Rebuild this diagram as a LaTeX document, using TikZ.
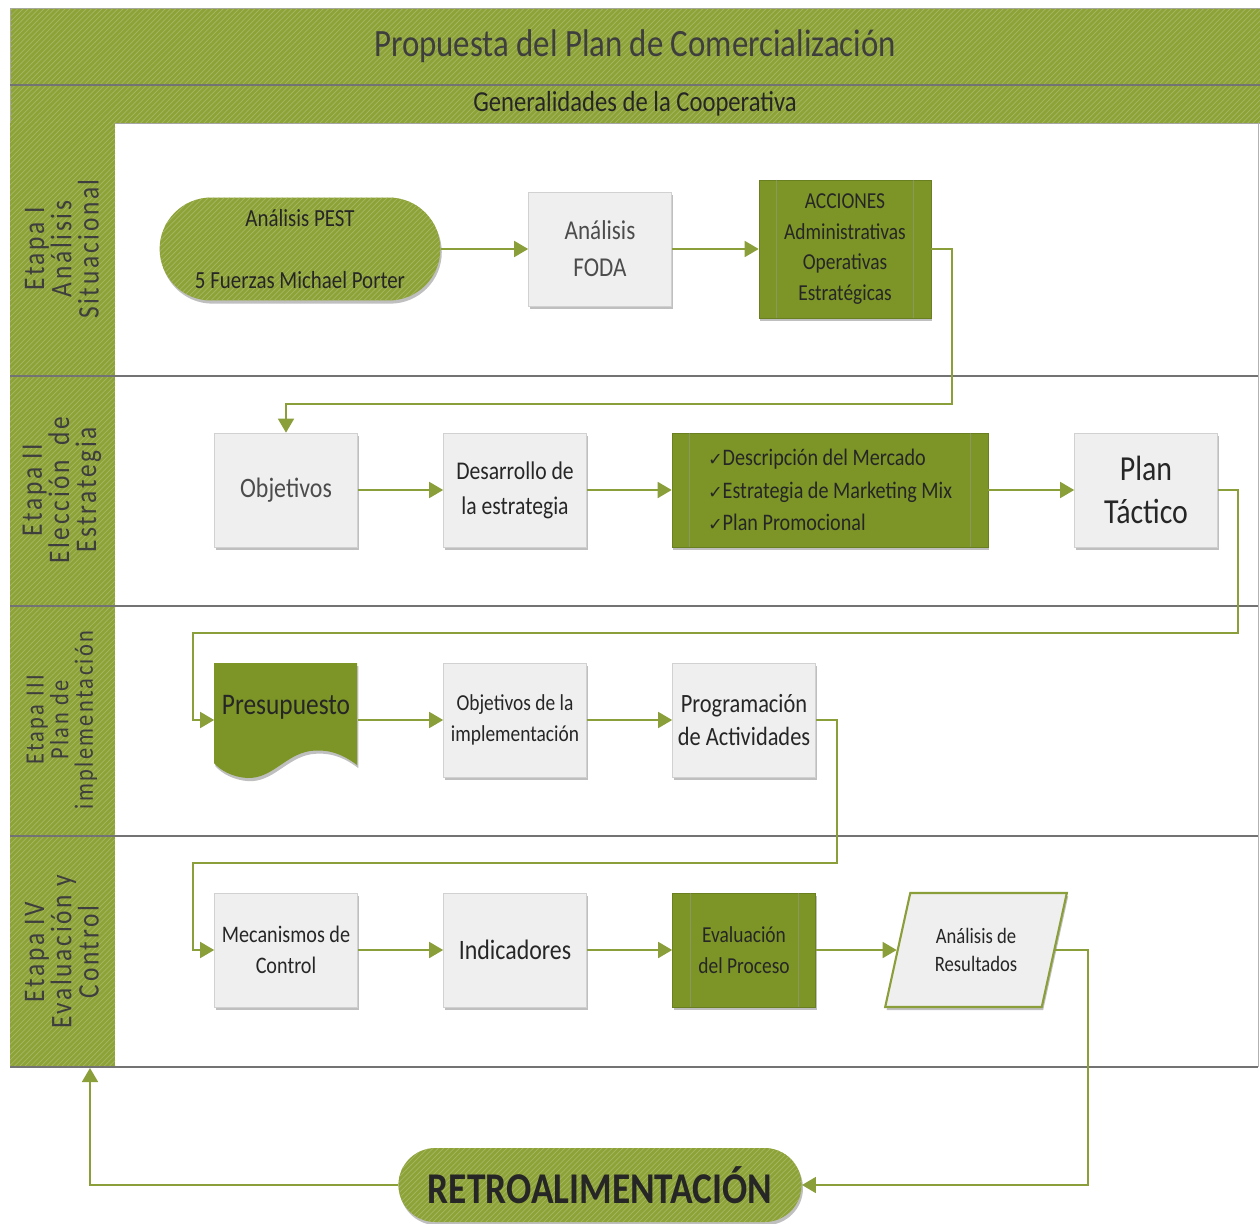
\documentclass[tikz,border=0pt]{standalone}
\usepackage{fontspec}
\setmainfont{Carlito}[FakeStretch=0.85]
\newfontfamily\lanefont{Carlito}[FakeStretch=0.85, LetterSpace=9]
\newfontfamily\checkfont{DejaVu Sans}
\usetikzlibrary{shapes.misc,shapes.geometric,shadows,arrows.meta,patterns}
\definecolor{bandgreen}{RGB}{141,163,56}
\definecolor{boxgreen}{RGB}{124,149,38}
\definecolor{linegreen}{RGB}{138,158,58}
\definecolor{boxgray}{RGB}{239,239,239}
\definecolor{textgray}{RGB}{62,62,62}
\newcommand{\chk}{{\checkfont\fontsize{10pt}{10pt}\selectfont ✓}}
\tikzset{
  band/.style={fill=bandgreen, postaction={pattern=north east lines, pattern color=bandgreen!78!white}},
  shade/.style={drop shadow={shadow xshift=0.8pt, shadow yshift=-1.8pt, fill=black, opacity=0.25}},
  box/.style={rectangle, fill=boxgray, draw=black!18, shade, minimum width=2.86cm, minimum height=2.28cm, align=center, text=black!85, inner sep=2pt},
  gbox/.style={box, fill=boxgreen, draw=boxgreen!85!black},
  term/.style={rounded rectangle, band, shade, align=center, text=black!85},
  lanelab/.style={rotate=90, align=center, text=textgray, font=\lanefont\fontsize{17pt}{15.5pt}\selectfont},
  flow/.style={color=linegreen, line width=1pt, -{Triangle[length=0.28cm,width=0.32cm,fill=linegreen]}},
  sepline/.style={draw=black!55, line width=1.2pt}
}
\begin{document}
\begin{tikzpicture}[x=0.02cm, y=-0.02cm]
\useasboundingbox (0,0) rectangle (1260,1223);
%\draw[help lines,step=100] (0,0) grid (1260,1223);
\fill[white] (10,123) rectangle (1258,1067);
\node (title) [band, draw=black!35, minimum width=25cm, minimum height=1.54cm, text=textgray, font=\fontsize{22pt}{24pt}\selectfont] at (635,46.5) {Propuesta del Plan de Comercialización};
\node (sub) [band, draw=black!35, minimum width=25cm, minimum height=0.76cm, text=black!85, font=\fontsize{16.5pt}{18pt}\selectfont] at (635,104) {Generalidades de la Cooperativa};
\draw[sepline] (title.south west) -- (title.south east);
\foreach \ya/\yb in {123/376,376/606,606/836,836/1067}
  \fill[band] (10,\ya) rectangle (115,\yb);
\foreach \y in {376,606,836,1067}
  \draw[sepline] (10,\y) -- (1258,\y);
\draw[black!30] (1258,123) -- (1258,1067);
\node (lab1) [lanelab] at (62,249) {Etapa I\\Análisis\\Situacional};
\node (lab2) [lanelab] at (62,490) {Etapa II\\Elección\enspace de\\Estrategia};
\node (lab3) [lanelab, font=\lanefont\fontsize{15pt}{14pt}\selectfont] at (62,720) {Etapa III\\Plan de\\implementación};
\node (lab4) [lanelab] at (62,952) {Etapa IV\\Evaluación y\\Control};
% etapa I
\node (pest) [term, minimum width=5.85cm, minimum height=2.06cm, font=\fontsize{14pt}{16pt}\selectfont] at (300,249) {Análisis PEST\\[19pt]5 Fuerzas Michael Porter};
\node (foda) [box, font=\fontsize{15.5pt}{21pt}\selectfont, text=black!70] at (600,249) {Análisis\\FODA};
\node (acc) [gbox, minimum width=3.44cm, minimum height=2.76cm, font=\fontsize{13pt}{17.5pt}\selectfont] at (845,249) {ACCIONES\\Administrativas\\Operativas\\Estratégicas};
% etapa II
\node (obj) [box, font=\fontsize{16pt}{20pt}\selectfont, text=black!70] at (286,490) {Objetivos};
\node (des) [box, font=\fontsize{14.5pt}{20pt}\selectfont] at (515,490) {Desarrollo de\\la estrategia};
\node (lst) [gbox, minimum width=6.32cm, align=left, font=\fontsize{13.5pt}{18.5pt}\selectfont] at (830,490) {\chk Descripción del Mercado\\\chk Estrategia de Marketing Mix\\\chk Plan Promocional\hspace*{0.4cm}};
\node (tac) [box, font=\fontsize{20pt}{24pt}\selectfont] at (1146,490) {Plan\\Táctico};
% etapa III
\fill[boxgreen, shade] (214,663) -- (357,663) -- (357,765) .. controls (340,752) and (325,749) .. (310,751) .. controls (285,755) and (272,779) .. (247,778) .. controls (232,777) and (220,770) .. (214,763) -- cycle;
\node (pres) [rectangle, minimum width=2.86cm, minimum height=2.28cm, label={[font=\fontsize{17pt}{20pt}\selectfont, text=black!85, yshift=0.26cm]center:Presupuesto}] at (286,720) {};
\node (obji) [box, font=\fontsize{13pt}{18pt}\selectfont] at (515,720) {Objetivos de la\\implementación};
\node (prog) [box, font=\fontsize{15pt}{19pt}\selectfont] at (744,720) {Programación\\de Actividades};
% etapa IV
\node (mec) [box, font=\fontsize{13.5pt}{18pt}\selectfont] at (286,950) {Mecanismos de\\Control};
\node (ind) [box, font=\fontsize{16pt}{20pt}\selectfont] at (515,950) {Indicadores};
\node (eva) [gbox, font=\fontsize{13pt}{18pt}\selectfont] at (744,950) {Evaluación\\del Proceso};
\node (par) [trapezium, trapezium left angle=72, trapezium right angle=108, trapezium stretches=true, minimum width=3.64cm, minimum height=2.28cm, fill=boxgray, draw=linegreen, line width=1.2pt, shade, align=center, text=black!85, font=\fontsize{12.5pt}{16pt}\selectfont] at (976,950) {Análisis de\\Resultados};
\node (retro) [term, minimum width=8.3cm, minimum height=1.48cm, font=\bfseries\fontsize{25pt}{28pt}\selectfont] at (600,1185) {RETROALIMENTACIÓN};
\coordinate (fb) at (90,1068);
\foreach \n in {acc,lst,eva} {
  \draw[black!40, opacity=0.5] ([xshift=0.36cm]\n.north west) -- ([xshift=0.36cm]\n.south west);
  \draw[black!40, opacity=0.5] ([xshift=-0.36cm]\n.north east) -- ([xshift=-0.36cm]\n.south east);
}
\draw[flow] (pest) -- (foda);
\draw[flow] (foda) -- (acc);
\draw[flow] (obj) -- (des);
\draw[flow] (des) -- (lst);
\draw[flow] (lst) -- (tac);
\draw[flow] (pres) -- (obji);
\draw[flow] (obji) -- (prog);
\draw[flow] (mec) -- (ind);
\draw[flow] (ind) -- (eva);
\draw[flow] (eva) -- (par);
\draw[flow] (acc.east) -| (952,404) -| (obj.north);
\draw[flow] (tac.east) -| (1238,633) -| (193,720) -- (pres.west);
\draw[flow] (prog.east) -| (837,863) -| (193,950) -- (mec.west);
\draw[flow] (par.east) -| (1088,1185) -- (retro.east);
\draw[flow] (retro.west) -| (fb);
\end{tikzpicture}
\end{document}
